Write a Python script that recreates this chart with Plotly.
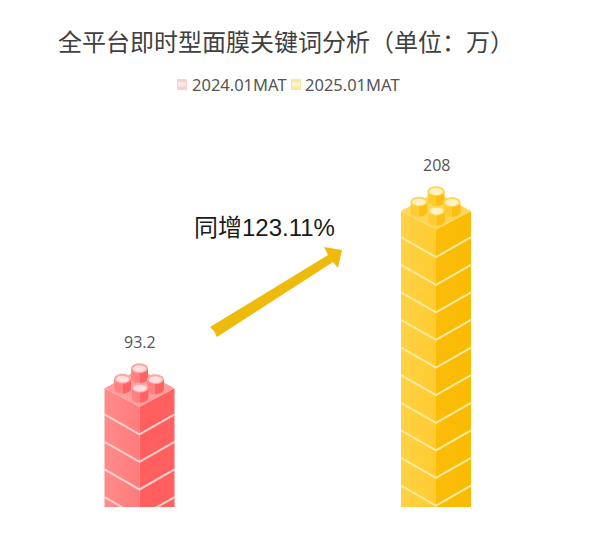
import numpy as np
import plotly.graph_objects as go

categories = ["2024.01MAT", "2025.01MAT"]
values = [93.2, 208]
value_labels = ["93.2", "208"]
title_text = "全平台即时型面膜关键词分析（单位：万）"
growth_text = "同增123.11%"

W, H = 597, 534
BASE_PX = 507           # pixel row of y=0
PX_PER_UNIT = 1.543
CENTER_0, CENTER_1 = 139.5, 436.0
PX_PER_CAT = CENTER_1 - CENTER_0
HALF_W = 35
BRICK_PX = 27.6

# colours per category: left face, right face, top, stud rim, stud inner, line, legend icon
colors = [
    dict(left0="#FF8B8B", left1="#FF7B7B", right0="#FF5E5E", right1="#FF6060", top="#FF9D9D",
         stud_l="#FF8080", stud_r="#FF6262", rim="#FFA6A6", inner="#FFDEDE", line="#FFD0D0",
         icon="#F9CFCF", icon2="#FBE7E7"),
    dict(left0="#FFD245", left1="#FFCB30", right0="#FBBC0A", right1="#F9BB02", top="#FFD658",
         stud_l="#FFCB30", stud_r="#FBBF14", rim="#FFD85F", inner="#FFF4C4", line="#FFEA9E",
         icon="#FBE6A2", icon2="#FDF3CF"),
]


def dx(px):
    return px / PX_PER_CAT


def dy(px):
    return px / PX_PER_UNIT


def paper_x(px):
    return px / W


def paper_y(py):
    return (BASE_PX - py) / BASE_PX


fig = go.Figure()


def add_poly(xs, ys, fill=None, gradient=None):
    kw = dict(fillgradient=dict(type="horizontal", colorscale=gradient)) if gradient else dict(fillcolor=fill)
    fig.add_trace(go.Scatter(x=xs, y=ys, mode="lines", fill="toself", line=dict(width=0),
                             hoverinfo="skip", showlegend=False, **kw))


def add_stud(cx, cy, c):
    # cy = value coordinate of the stud's upper ellipse centre
    t = np.linspace(0, 2 * np.pi, 40)
    rx, ry = dx(8.5), dy(5)
    body_h = dy(10)
    half = np.linspace(np.pi, 2 * np.pi, 20)
    bx = np.concatenate([[cx - rx], cx + rx * np.cos(half), [cx + rx]])
    by = np.concatenate([[cy], cy - body_h + ry * np.sin(half), [cy]])
    add_poly(bx, by, gradient=[[0, c["stud_l"]], [0.5, c["stud_l"]], [0.5, c["stud_r"]], [1, c["stud_r"]]])
    add_poly(cx + rx * np.cos(t), cy + ry * np.sin(t), fill=c["rim"])
    add_poly(cx + rx * 0.78 * np.cos(t), cy - dy(0.5) + ry * 0.68 * np.sin(t), fill=c["inner"])


for i, v in enumerate(values):
    c = colors[i]
    hw = dx(HALF_W)
    side = v - dy(25)
    front = v - dy(43.5)
    back = v - dy(6)
    # faces
    add_poly([i - hw, i, i, i - hw], [side, front, 0, 0],
             gradient=[[0, c["left0"]], [1, c["left1"]]])
    add_poly([i, i + hw, i + hw, i], [front, side, 0, 0],
             gradient=[[0, c["right0"]], [1, c["right1"]]])
    add_poly([i - hw, i, i + hw, i], [side, back, side, front], fill=c["top"])
    # brick seams
    apex = front - dy(BRICK_PX)
    while apex > -dy(22):
        fig.add_trace(go.Scatter(x=[i - hw, i, i + hw], y=[apex + dy(20), apex, apex + dy(20)],
                                 mode="lines", line=dict(color=c["line"], width=2),
                                 hoverinfo="skip", showlegend=False))
        apex -= dy(BRICK_PX)
    # studs
    add_stud(i, v - dy(5), c)
    add_stud(i - dx(17), v - dy(15.5), c)
    add_stud(i + dx(16), v - dy(16), c)
    add_stud(i + dx(0.5), v - dy(24.5), c)
    fig.add_annotation(x=i, y=v, yref="y", text=value_labels[i], showarrow=False, yanchor="middle",
                       yshift=21, font=dict(size=16, color="#555555"))

FONT = "Noto Sans CJK SC, Noto Sans, sans-serif"

# title + fake legend (small brick icons, native legend icons are too wide)
fig.add_annotation(x=paper_x(56), y=paper_y(41), xref="paper", yref="paper", xanchor="left", yanchor="middle",
                   text=title_text, showarrow=False, font=dict(size=24, color="#404040", family=FONT))
legend_x = [190, 303]
icon_x = [177, 291]
shapes = []
for i, name in enumerate(categories):
    fig.add_annotation(x=paper_x(legend_x[i]), y=paper_y(84.5), xref="paper", yref="paper", xanchor="left",
                       yanchor="middle", text=name, showarrow=False,
                       font=dict(size=16.5, color="#555555", family="Noto Sans"))
    ix = icon_x[i]
    shapes.append(dict(type="rect", xref="paper", yref="paper", x0=paper_x(ix), x1=paper_x(ix + 10),
                       y0=paper_y(90), y1=paper_y(79), fillcolor=colors[i]["icon"], line=dict(width=0)))
    shapes.append(dict(type="rect", xref="paper", yref="paper", x0=paper_x(ix + 1), x1=paper_x(ix + 9),
                       y0=paper_y(86.5), y1=paper_y(82), fillcolor=colors[i]["icon2"], line=dict(width=0)))

# growth arrow
arrow_px = [(210, 327), (328, 255), (324, 247), (342, 250), (338, 268), (333, 262), (217, 337), (214, 331)]
path = "M " + " L ".join(f"{paper_x(a)},{paper_y(b)}" for a, b in arrow_px) + " Z"
shapes.append(dict(type="path", xref="paper", yref="paper", path=path, fillcolor="#EEBB0C", line=dict(width=0)))

fig.add_annotation(x=paper_x(192), y=paper_y(228), xref="paper", yref="paper", xanchor="left", yanchor="middle",
                   text=growth_text, showarrow=False,
                   font=dict(size=24, color="#1A1A1A", family="Liberation Sans, Noto Sans CJK SC"))

fig.update_layout(
    width=W, height=H,
    margin=dict(l=0, r=0, t=0, b=H - BASE_PX),
    plot_bgcolor="white", paper_bgcolor="white",
    showlegend=False,
    shapes=shapes,
    xaxis=dict(visible=False, range=[-CENTER_0 / PX_PER_CAT, (W - CENTER_0) / PX_PER_CAT]),
    yaxis=dict(visible=False, range=[0, BASE_PX / PX_PER_UNIT]),
)

# browser default body margin would push everything 8px off
fig.write_html("out.html", config=dict(displayModeBar=False), post_script="document.body.style.margin='0';")
